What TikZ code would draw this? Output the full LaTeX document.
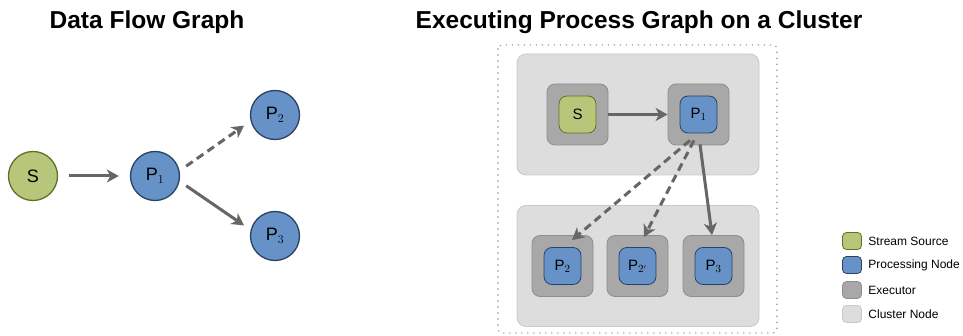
\documentclass[tikz,border=0pt]{standalone}
\usepackage{fontspec}
\setmainfont{Liberation Sans}
\usetikzlibrary{arrows.meta}

\definecolor{srcgreen}{RGB}{183,199,121}
\definecolor{srcedge}{RGB}{98,112,38}
\definecolor{procblue}{RGB}{102,146,199}
\definecolor{procedge}{RGB}{42,66,102}
\definecolor{execgray}{RGB}{168,168,168}
\definecolor{execedge}{RGB}{142,142,142}
\definecolor{clustgray}{RGB}{221,221,221}
\definecolor{clustedge}{RGB}{200,200,200}
\definecolor{flowgray}{RGB}{102,102,102}

\tikzset{
  title/.style={font=\fontsize{24.5}{26}\selectfont\bfseries},
  src/.style={circle,draw=srcedge,fill=srcgreen,line width=1.3pt,minimum size=49pt,inner sep=0pt,font=\fontsize{18}{20}\selectfont},
  proc/.style={circle,draw=procedge,fill=procblue,line width=1.3pt,minimum size=49pt,inner sep=0pt,font=\fontsize{18}{20}\selectfont},
  exec/.style={rectangle,rounded corners=8pt,draw=execedge,fill=execgray,line width=0.8pt,minimum size=61pt,inner sep=0pt},
  rsrc/.style={rectangle,rounded corners=8pt,draw=srcedge,fill=srcgreen,line width=0.8pt,minimum size=37pt,inner sep=0pt,font=\fontsize{15}{17}\selectfont},
  rproc/.style={rectangle,rounded corners=8pt,draw=procedge,fill=procblue,line width=0.8pt,minimum size=37pt,inner sep=0pt,font=\fontsize{15}{17}\selectfont},
  cluster/.style={rectangle,rounded corners=9pt,draw=clustedge,fill=clustgray,line width=0.8pt,minimum width=242pt,minimum height=121pt},
  flow/.style={draw=flowgray,line width=3pt,-{Stealth[length=12pt,width=13pt,inset=3.5pt]}},
  dashflow/.style={flow,dash pattern=on 8pt off 5pt},
  swatch/.style={rectangle,rounded corners=4pt,line width=0.8pt,minimum width=19pt,minimum height=17pt,inner sep=0pt},
  legtext/.style={anchor=west,font=\fontsize{12}{14}\selectfont}
}

\begin{document}
\begin{tikzpicture}[x=1pt,y=-1pt]
\useasboundingbox (0,0) rectangle (963,336);

% Data flow graph
\node[title] (t1) at (147,22) {Data Flow Graph};
\node[src] (s) at (33,176) {S};
\node[proc] (p1) at (155,176) {P$_1$};
\node[proc] (p2) at (275,115) {P$_2$};
\node[proc] (p3) at (275,236) {P$_3$};
\draw[flow,shorten <=11pt,shorten >=11pt] (s) -- (p1);
\draw[dashflow,shorten <=8pt,shorten >=8pt] (p1.12) -- (p2.194);
\draw[flow,shorten <=8pt,shorten >=8pt] (p1.-12) -- (p3.166);

% Executing process graph
\node[title] (t2) at (639,22) {Executing Process Graph on a Cluster};
\draw[gray!85,line width=1.6pt,line cap=round,dash pattern=on 0pt off 6pt,rounded corners=4pt] (498,45) rectangle (777,333);
\node[cluster] (cl1) at (638,114.5) {};
\node[cluster] (cl2) at (638,266) {};
\node[exec] (exS) at (577.5,114.5) {};
\node[exec] (exP1) at (698.5,114.5) {};
\node[exec] (exP2) at (562.5,266) {};
\node[exec] (exP2b) at (637.5,266) {};
\node[exec] (exP3) at (713.5,266) {};
\node[rsrc] (rS) at (exS) {S};
\node[rproc] (rP1) at (exP1) {P$_1$};
\node[rproc] (rP2) at (exP2) {P$_2$};
\node[rproc] (rP2b) at (exP2b) {P$_{2'}$};
\node[rproc] (rP3) at (exP3) {P$_3$};
\draw[flow] (exS) -- (exP1);
\draw[dashflow] ([xshift=-8.5pt,yshift=5pt]exP1.south) -- ([xshift=9.5pt,yshift=-5pt]exP2.north);
\draw[dashflow] ([xshift=-4.5pt,yshift=5pt]exP1.south) -- ([xshift=6.5pt,yshift=-2pt]exP2b.north);
\draw[flow] ([xshift=1.5pt,yshift=1pt]exP1.south) -- ([xshift=-1.5pt]exP3.north);

% Legend
\foreach \fc/\ec/\txt/\y in {srcgreen/srcedge/Stream Source/241,procblue/procedge/Processing Node/265,execgray/execedge/Executor/290,clustgray/clustedge/Cluster Node/314} {
  \node[swatch,fill=\fc,draw=\ec] (sw) at (852,\y) {};
  \node[legtext] at ([xshift=3pt]sw.east) {\txt};
}

\end{tikzpicture}
\end{document}
